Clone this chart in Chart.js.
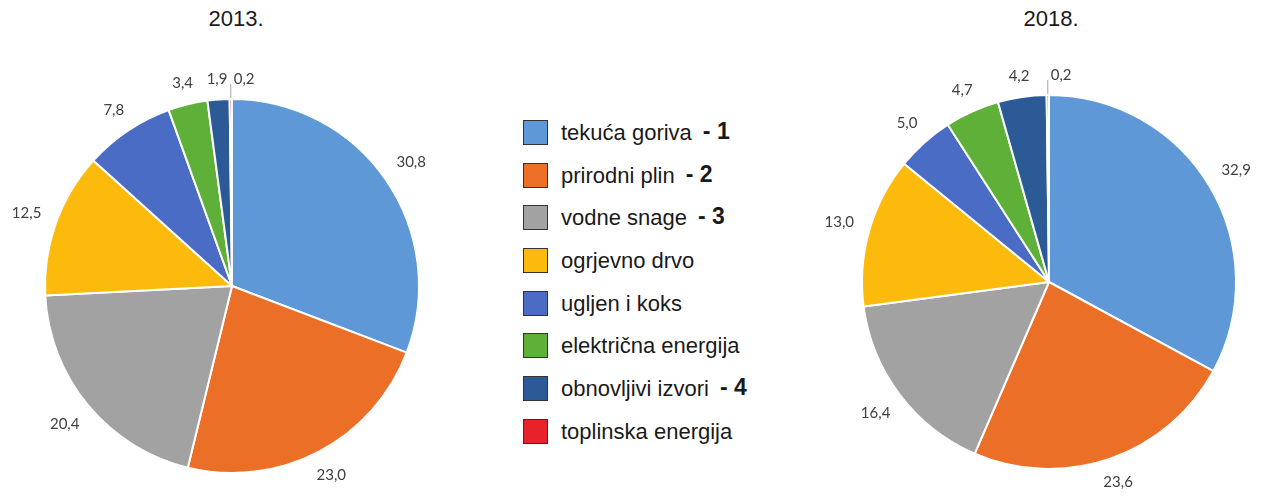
<!DOCTYPE html>
<html>
<head>
<meta charset="utf-8">
<script src="https://cdn.jsdelivr.net/npm/chart.js@4"></script>
<style>
  body { margin: 0; background: #fff; width: 1267px; height: 499px; position: relative; overflow: hidden; }
  .title { position: absolute; top: 6px; font: 22px "Liberation Sans", Arial, sans-serif; color: #1a1a1a; transform: translateX(-50%); }
  canvas { position: absolute; }
  #legend { position: absolute; left: 523px; top: 120px; font: 22px "Liberation Sans", Arial, sans-serif; color: #1a1a1a; }
  .row { height: 42.7px; display: flex; align-items: flex-start; white-space: nowrap; }
  .box { border: 1px solid #333; box-sizing: border-box; width: 25px; height: 25px; margin-right: 13px; }
  .row span { line-height: 25px; }
  .row b { margin-left: 11px; line-height: 23px; font-size: 23px; }
</style>
</head>
<body>
<div class="title" style="left:236px">2013.</div>
<div class="title" style="left:1051px">2018.</div>
<canvas id="c2013" width="464" height="439" style="left:0;top:60px"></canvas>
<canvas id="c2018" width="447" height="444" style="left:820px;top:55px"></canvas>
<div id="legend"></div>
<script>
const categories = ['tekuća goriva', 'prirodni plin', 'vodne snage', 'ogrjevno drvo',
  'ugljen i koks', 'električna energija', 'obnovljivi izvori', 'toplinska energija'];
const legendMarks = ['- 1', '- 2', '- 3', '', '', '', '- 4', ''];
const values2013 = [30.8, 23.0, 20.4, 12.5, 7.8, 3.4, 1.9, 0.2];
const values2018 = [32.9, 23.6, 16.4, 13.0, 5.0, 4.7, 4.2, 0.2];
const colors = ['#5f98d6', '#ec6f28', '#a2a2a2', '#fbba0c', '#4a6cc4', '#5fb038', '#2b5a96', '#e8212b'];

// html legend
const legend = document.getElementById('legend');
categories.forEach((name, i) => {
  const row = document.createElement('div');
  row.className = 'row';
  row.innerHTML = '<div class="box" style="background:' + colors[i] + '"></div><span>' + name + '</span>' +
    (legendMarks[i] ? '<b>' + legendMarks[i] + '</b>' : '');
  legend.appendChild(row);
});

const outsideLabels = {
  id: 'outsideLabels',
  afterDatasetsDraw(chart) {
    const ctx = chart.ctx;
    const meta = chart.getDatasetMeta(0);
    const data = chart.data.datasets[0].data;
    ctx.save();
    ctx.font = '15px Lato, "Open Sans", sans-serif';
    ctx.fillStyle = '#404040';
    meta.data.forEach((arc, i) => {
      const a = (arc.startAngle + arc.endAngle) / 2;
      const r = arc.outerRadius;
      const txt = data[i].toFixed(1).replace('.', ',');
      const cos = Math.cos(a), sin = Math.sin(a);
      if (data[i] < 1) {
        // tiny slice: short leader line, label to its right
        const x1 = arc.x + cos * (r + 1), y1 = arc.y + sin * (r + 1);
        const x2 = arc.x + cos * (r + 15), y2 = arc.y + sin * (r + 15);
        ctx.strokeStyle = '#a6a6a6';
        ctx.lineWidth = 1;
        ctx.beginPath();
        ctx.moveTo(x1, y1);
        ctx.lineTo(x2, y2);
        ctx.stroke();
        ctx.textAlign = 'left';
        ctx.textBaseline = 'middle';
        ctx.fillText(txt, x2 + 3, y2 - 5);
        return;
      }
      const w = ctx.measureText(txt).width;
      const d = r + 12 + Math.abs(cos) * (w / 2 + 3) + Math.abs(sin) * 7;
      ctx.textAlign = 'center';
      ctx.textBaseline = 'middle';
      ctx.fillText(txt, arc.x + cos * d, arc.y + sin * d);
    });
    ctx.restore();
  }
};

function makePie(id, values, padding) {
  new Chart(document.getElementById(id), {
    type: 'pie',
    data: {
      labels: categories,
      datasets: [{ data: values, backgroundColor: colors, borderColor: '#ffffff', borderWidth: 2 }]
    },
    options: {
      responsive: false,
      animation: false,
      events: [],
      layout: { padding: padding },
      plugins: { legend: { display: false }, tooltip: { enabled: false } }
    },
    plugins: [outsideLabels]
  });
}

makePie('c2013', values2013, { left: 44, right: 44, top: 38, bottom: 25 });
makePie('c2018', values2018, { left: 41, right: 30, top: 39, bottom: 29 });
</script>
</body>
</html>
